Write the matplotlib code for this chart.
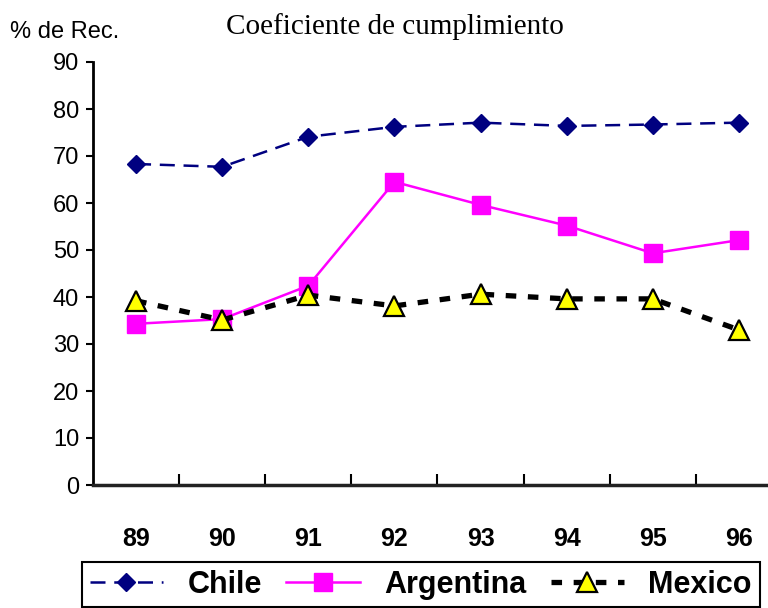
import matplotlib.pyplot as plt

years = ["89", "90", "91", "92", "93", "94", "95", "96"]
chile = [68.3, 67.7, 74.1, 76.2, 77.1, 76.4, 76.7, 77.1]
argentina = [34.3, 35.3, 42.4, 64.5, 59.6, 55.2, 49.3, 52.1]
mexico = [39.2, 35.1, 40.4, 38.1, 40.6, 39.6, 39.6, 33.0]

fig = plt.figure(figsize=(7.68, 6.08), dpi=100)
ax = fig.add_axes([93 / 768, 123 / 608, 689 / 768, 423 / 608])

x = list(range(len(years)))

ax.plot(x, chile, color='#000080', lw=1.8, dashes=(6, 3.5),
        marker='D', ms=9, mfc='#000080', mec='#000080', label='Chile')
ax.plot(x, argentina, color='#FF00FF', lw=1.8, linestyle='-',
        marker='s', ms=13, mfc='#FF00FF', mec='#FF00FF', label='Argentina')
ax.plot(x, mexico, color='black', lw=3.8, dashes=(2, 2.2),
        marker='^', ms=15, mfc='#FFFF00', mec='black', mew=1.6, label='Mexico')

ax.set_xlim(-0.5, 7.5)
ax.set_ylim(0, 90)
ax.set_yticks(range(0, 91, 10))
ax.set_xticks(x)
ax.set_xticklabels(years, fontsize=18, fontweight='bold', family='Liberation Sans')
ax.set_xticks([i + 0.5 for i in range(7)], minor=True)
ax.tick_params(axis='x', which='major', length=0, pad=30)
ax.tick_params(axis='x', which='minor', direction='in', length=8, width=1.5)
ax.tick_params(axis='y', direction='out', length=5, width=1.5, labelsize=17, pad=5)
for lab in ax.get_yticklabels():
    lab.set_family('Liberation Sans')

ax.spines['top'].set_visible(False)
ax.spines['right'].set_visible(False)
ax.spines['left'].set_linewidth(2)
ax.spines['bottom'].set_linewidth(2.5)
ax.spines['bottom'].set_color('#222222')

fig.text(395 / 768, 1 - 27 / 608, "Coeficiente de cumplimiento", ha='center', va='center',
         fontsize=21, family='Liberation Serif')
fig.text(10 / 768, 1 - 32 / 608, "% de Rec.", ha='left', va='center',
         fontsize=17, family='Liberation Sans')

leg = fig.legend(loc='upper left', bbox_to_anchor=(82 / 768, 1 - 562 / 608), ncol=3,
                 numpoints=1, handlelength=2.4, handletextpad=0.8, columnspacing=0.8,
                 fancybox=False, edgecolor='black', framealpha=1, borderpad=0.25,
                 borderaxespad=0,
                 prop={'family': 'Liberation Sans', 'weight': 'bold', 'size': 22})
leg.get_frame().set_linewidth(1.5)

fig.savefig("out.png", dpi=100)
